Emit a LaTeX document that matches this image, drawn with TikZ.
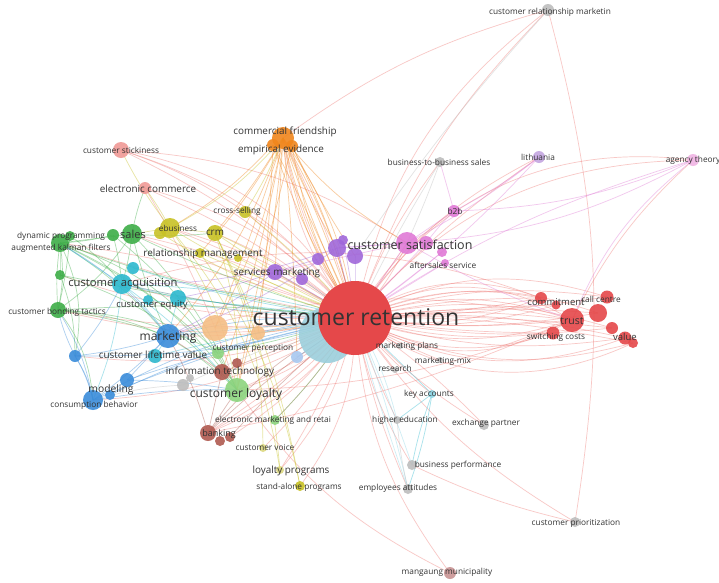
\documentclass[tikz,border=0pt]{standalone}
\usepackage{fontspec}
\setmainfont{Open Sans}
\usetikzlibrary{backgrounds}
\pgfdeclarelayer{bgfill}
\pgfsetlayers{bgfill,background,main}
\definecolor{cRed}{HTML}{E5484A}
\definecolor{eRed}{HTML}{F07C78}
\definecolor{cSalmon}{HTML}{F09A96}
\definecolor{cOrange}{HTML}{F0861C}
\definecolor{cOrangeL}{HTML}{F5BE85}
\definecolor{cYellow}{HTML}{C8C226}
\definecolor{cYellowL}{HTML}{DCD880}
\definecolor{cGreen}{HTML}{3EAE48}
\definecolor{cGreenL}{HTML}{8CD47E}
\definecolor{cCyan}{HTML}{2DB9CF}
\definecolor{cCyanL}{HTML}{8ED6E6}
\definecolor{cBlue}{HTML}{3A8CDA}
\definecolor{cBlueL}{HTML}{A8C8F0}
\definecolor{cBrown}{HTML}{B05A50}
\definecolor{cPurple}{HTML}{A068DA}
\definecolor{cPink}{HTML}{E07AD6}
\definecolor{cPinkL}{HTML}{F0B4E4}
\definecolor{cLav}{HTML}{C4A6E0}
\definecolor{cGray}{HTML}{BDBDBD}
\definecolor{cRose}{HTML}{C99494}
\definecolor{cPale}{HTML}{9CCFDC}
\definecolor{txt}{HTML}{333333}
\newcommand\fsz[1]{\fontsize{#1}{#1}\selectfont}
\begin{document}
\begin{tikzpicture}[x=1pt,y=1pt,
  bub/.style 2 args={circle,fill=#1,fill opacity=0.9,inner sep=0pt,minimum size=#2},
  lab/.style={text=txt,inner sep=0pt},
  lnk/.style={draw=#1,draw opacity=0.42,line width=0.7pt}]
\begin{pgfonlayer}{bgfill}
\fill[white] (0,0) rectangle (719,-582);
\end{pgfonlayer}
\useasboundingbox (0,0) rectangle (719,-582);
% ---------- bubbles ----------
\node[bub={cPale}{56}] (crb) at (327,-335) {};
\node[bub={cRed}{74},fill opacity=1] (cr) at (355,-318) {};
% red
\node[bub={cRed}{24}] (trust) at (572,-320) {};
\node[bub={cRed}{12}] (commit) at (541,-298) {};
\node[bub={cRed}{9}] (r2) at (556,-305) {};
\node[bub={cRed}{18}] (r3) at (598,-313) {};
\node[bub={cRed}{13}] (callc) at (607,-297) {};
\node[bub={cRed}{12}] (r5) at (612,-328) {};
\node[bub={cRed}{13}] (val) at (625,-338) {};
\node[bub={cRed}{10}] (r6) at (633,-343) {};
\node[bub={cRed}{13}] (swc) at (553,-333) {};
\node[bub={cSalmon}{16}] (cst) at (121,-150) {};
\node[bub={cSalmon}{12}] (ec) at (145,-188) {};
% orange
\node[bub={cOrange}{22}] (cf) at (283,-138) {};
\node[bub={cOrange}{12}] (cf2) at (273,-145) {};
\node[bub={cOrange}{12}] (cf3) at (292,-146) {};
\node[bub={cOrangeL}{26}] (ob) at (215,-328) {};
\node[bub={cOrangeL}{14}] (ob2) at (258,-333) {};
% yellow
\node[bub={cYellow}{20}] (ebus) at (170,-228) {};
\node[bub={cYellow}{12}] (eb2) at (160,-233) {};
\node[bub={cYellow}{16}] (crm) at (215,-233) {};
\node[bub={cYellow}{12}] (crsell) at (245,-212) {};
\node[bub={cYellow}{10}] (rm) at (200,-253) {};
\node[bub={cYellow}{8}] (y5) at (238,-258) {};
\node[bub={cYellowL}{8}] (cv) at (263,-448) {};
\node[bub={cYellowL}{8}] (lp) at (280,-470) {};
\node[bub={cYellow}{10}] (sap) at (300,-486) {};
% green
\node[bub={cGreen}{20}] (sales) at (132,-234) {};
\node[bub={cGreen}{12}] (g2) at (113,-235) {};
\node[bub={cGreen}{18}] (dyn) at (60,-243) {};
\node[bub={cGreen}{10}] (g3) at (70,-236) {};
\node[bub={cGreen}{10}] (g4) at (60,-275) {};
\node[bub={cGreen}{16}] (cbt) at (58,-310) {};
\node[bub={cGreenL}{24}] (cl) at (237,-390) {};
\node[bub={cGreenL}{12}] (g5) at (218,-353) {};
\node[bub={cGreenL}{10}] (emr) at (275,-420) {};
% cyan
\node[bub={cCyan}{20}] (ca) at (122,-284) {};
\node[bub={cCyan}{12}] (c2) at (133,-268) {};
\node[bub={cCyan}{16}] (ce) at (178,-298) {};
\node[bub={cCyan}{10}] (c3) at (148,-300) {};
\node[bub={cCyan}{14}] (clv) at (155,-356) {};
\node[bub={cCyanL}{8}] (ka) at (432,-394) {};
% blue
\node[bub={cBlue}{24}] (mk) at (168,-336) {};
\node[bub={cBlue}{12}] (b2) at (75,-356) {};
\node[bub={cBlue}{14}] (mod) at (127,-380) {};
\node[bub={cBlue}{20}] (cb) at (93,-400) {};
\node[bub={cBlue}{10}] (b3) at (110,-395) {};
\node[bub={cBlueL}{12}] (b4) at (297,-357) {};
% brown
\node[bub={cBrown}{16}] (it) at (222,-372) {};
\node[bub={cBrown}{10}] (br2) at (237,-363) {};
\node[bub={cBrown}{16}] (bank) at (208,-433) {};
\node[bub={cBrown}{10}] (br3) at (230,-437) {};
\node[bub={cBrown}{10}] (br4) at (220,-441) {};
% purple
\node[bub={cPurple}{18}] (p1) at (337,-248) {};
\node[bub={cPurple}{16}] (p2) at (355,-256) {};
\node[bub={cPurple}{12}] (p3) at (318,-259) {};
\node[bub={cPurple}{10}] (p4) at (343,-240) {};
\node[bub={cPurple}{16}] (sm) at (275,-272) {};
\node[bub={cPurple}{12}] (p5) at (302,-279) {};
% pink
\node[bub={cPink}{22}] (csat) at (407,-243) {};
\node[bub={cPink}{14}] (k2) at (426,-243) {};
\node[bub={cPink}{10}] (k3) at (442,-252) {};
\node[bub={cPink}{12}] (b2b) at (454,-211) {};
\node[bub={cPink}{8}] (af) at (445,-263) {};
\node[bub={cPinkL}{12}] (at) at (693,-160) {};
\node[bub={cLav}{12}] (lith) at (539,-157) {};
% gray
\node[bub={cGray}{10}] (bbs) at (440,-162) {};
\node[bub={cGray}{12}] (crmk) at (548,-10) {};
\node[bub={cGray}{8}] (hedu) at (397,-420) {};
\node[bub={cGray}{10}] (ep) at (484,-425) {};
\node[bub={cGray}{10}] (bp) at (412,-465) {};
\node[bub={cGray}{10}] (ea) at (408,-489) {};
\node[bub={cGray}{10}] (cp) at (575,-522) {};
\node[bub={cRose}{12}] (mm) at (450,-573) {};
\node[bub={cGray}{6}] (mp) at (400,-346) {};
\node[bub={cGray}{6}] (rs) at (395,-370) {};
\node[bub={cGray}{6}] (mmix) at (440,-360) {};
\node[bub={cGray}{12}] (gl1) at (183,-385) {};
\node[bub={cGray}{8}] (gl2) at (190,-378) {};
% ---------- links ----------
\begin{pgfonlayer}{background}
\foreach \t/\b in {crmk/20,crmk/12,lith/14,lith/6,at/32,at/24,b2b/12,bbs/8,csat/0,csat/-10,
  commit/26,commit/16,commit/6,commit/-4,commit/-14,trust/30,trust/18,trust/6,trust/-6,trust/-18,trust/-30,
  callc/22,callc/12,callc/-3,r3/-8,r3/5,r3/20,val/-12,val/-24,val/8,r6/-20,r6/6,r6/-30,
  swc/-10,swc/-22,swc/-4,r5/4,r5/-8,r5/14,r2/2,r2/-12,
  cst/-25,cst/-18,cst/-10,ec/-16,ec/-8,ebus/-10,ebus/-4,sales/-8,sales/0,crm/-8,dyn/-6,dyn/4,
  ca/4,ca/8,mk/6,cbt/8,cbt/12,g4/10,b2/14,cb/14,
  cl/8,cl/14,bank/10,bank/4,bank/16,lp/14,lp/6,cv/10,sap/18,emr/6,it/4,br3/10,
  mm/-16,bp/-10,ea/-6,hedu/-4,ep/-8,ep/6,cp/-12,
  ka/-6,mp/0,rs/0,mmix/-4,cf/10,cf/-5,cf/16,p1/0,sm/0,crsell/-4,crsell/-12}
  \draw[lnk=eRed] (cr.center) to[bend left=\b] (\t.center);
\foreach \t/\b in {ea/4,hedu/8,bp/2,ea/-2}
  \draw[lnk=cCyanL] (cr.center) to[bend left=\b] (\t.center);
\draw[lnk=eRed] (crmk.center) to[bend right=10] (cf.center);
\draw[lnk=eRed] (crmk.center) to[bend left=12] (cp.center);
\draw[lnk=eRed] (cst.center) to[bend left=8] (crsell.center);
\draw[lnk=eRed] (cst.center) to[bend left=14] (csat.center);
\draw[lnk=eRed] (ec.center) to[bend left=6] (cl.center);
\draw[lnk=eRed] (bp.center) to[bend right=6] (cp.center);
\draw[lnk=eRed] (bank.center) to[bend right=6] (trust.center);
\draw[lnk=eRed] (cl.center) to[bend right=10] (trust.center);
\draw[lnk=eRed] (mk.center) to[bend left=14] (trust.center);
\draw[lnk=eRed] (ca.center) to[bend left=18] (commit.center);
\draw[lnk=eRed] (cl.center) to[bend right=14] (mm.center);
\draw[lnk=eRed] (trust.center) to[bend left=10] (at.center);
\foreach \a/\t/\b in {cf/cr/-12,cf/cr/-8,cf/cr/-3,cf/cr/3,cf/cr/8,cf/cr/13,cf2/cr/-6,cf2/cr/2,cf3/cr/6,cf3/cr/-10,
  cf/cl/5,cf/rm/6,cf/ob/8,cf/ob/2,cf/mk/10,cf/csat/-10,cf/p1/-4,cf/sm/0,cf2/ob2/2,cf/it/4,cf/crm/4,
  cf3/p2/-3,cf2/ebus/8,ob/cr/-4,ob2/cr/-2,cf/b4/2,cf3/cl/-2}
  \draw[lnk=cOrange] (\a.center) to[bend left=\b] (\t.center);
\foreach \a/\t/\b in {sales/dyn/0,sales/ca/5,sales/cr/-5,sales/cl/10,dyn/cbt/10,dyn/cl/15,cbt/cl/20,
  g4/cl/15,cbt/mk/5,g2/dyn/5,sales/mk/-5,dyn/g4/0,sales/ec/5,dyn/cr/-5,g4/cr/-3,cbt/cr/5,
  sales/crm/-5,g3/ca/8,dyn/b2/18,cbt/cb/16,g2/cl/12,g5/cr/-3,emr/cr/-6,g5/dyn/-8,
  dyn/cbt/-6,g3/cbt/4,dyn/cl/22,sales/cbt/10,cbt/g5/12,g4/b2/10,dyn/mk/8,g2/ca/4}
  \draw[lnk=cGreen] (\a.center) to[bend left=\b] (\t.center);
\foreach \a/\t/\b in {ebus/crm/0,ebus/cr/-5,crm/cr/-3,crsell/cr/5,rm/cr/0,ebus/cst/5,crm/cl/10,
  ebus/lp/15,crm/lp/10,ebus/sales/0,crm/cv/12,rm/sap/12,ebus/cf/-10,crsell/cf/-5,eb2/cr/-8,y5/cr/-2,
  ebus/cl/12,crm/sap/8,crm/cr/6,ebus/ec/-4}
  \draw[lnk=cYellow] (\a.center) to[bend left=\b] (\t.center);
\foreach \a/\t/\b in {ca/cr/-4,ca/ce/0,ca/mk/5,ce/cr/0,clv/cr/3,ca/cb/8,c2/cr/-5,clv/mk/0,ca/dyn/0,
  ka/cr/0,ka/ea/5,ka/hedu/0,ca/cl/6,c3/cr/-2,ce/mk/0,ka/bp/-4,ca/cr/6}
  \draw[lnk=cCyan] (\a.center) to[bend left=\b] (\t.center);
\foreach \a/\t/\b in {mk/cr/0,mk/cb/5,cb/cr/5,mod/cr/3,b2/mk/-5,cb/cbt/-10,b2/cb/10,mod/mk/0,cb/cl/5,
  b4/cr/0,b2/cr/-8,mk/dyn/-10,cb/cr/12,b3/cr/8,mod/cl/4,b2/ca/-6,cb/b2/-8,b2/cbt/6,mk/cr/8}
  \draw[lnk=cBlue] (\a.center) to[bend left=\b] (\t.center);
\foreach \a/\t/\b in {bank/cr/5,it/cr/0,bank/it/0,bank/cl/0,it/mk/0,br3/cr/4,bank/mk/-6,bank/cr/12}
  \draw[lnk=cBrown] (\a.center) to[bend left=\b] (\t.center);
\foreach \a/\t/\b in {p1/cr/0,p2/cr/0,sm/cr/0,p3/sm/0,p1/csat/0,sm/mk/5,p1/ca/10,p4/cr/3,p5/cr/0,sm/ce/4,p1/mk/8}
  \draw[lnk=cPurple] (\a.center) to[bend left=\b] (\t.center);
\foreach \a/\t/\b in {csat/b2b/0,csat/at/-12,csat/lith/-5,csat/cr/0,k2/cr/0,b2b/bbs/0,at/b2b/10,
  lith/b2b/5,csat/trust/-5,af/cr/0,csat/sm/0,k3/cr/3,lith/cr/6,at/cr/-8,csat/p1/0,at/trust/-14,k2/b2b/4}
  \draw[lnk=cPink] (\a.center) to[bend left=\b] (\t.center);
\draw[lnk=cGray] (bbs.center) to[bend left=-3] (cr.center);
\draw[lnk=cGray] (bbs.center) to[bend left=2] (csat.center);
\draw[lnk=cGray] (crmk.center) to[bend right=4] (p2.center);
\draw[lnk=cGray] (gl1.center) to[bend left=4] (cr.center);
\draw[lnk=cGray] (gl1.center) to[bend right=6] (cb.center);
\draw[lnk=cGray] (ea.center) to[bend left=4] (hedu.center);
\end{pgfonlayer}
% ---------- labels ----------
\node[lab,font=\fsz{23}] (l-cr) at (356,-317) {customer retention};
\node[lab,font=\fsz{12.5}] (l-csat) at (410,-245) {customer satisfaction};
\node[lab,font=\fsz{12}] (l-cl) at (236,-394) {customer loyalty};
\node[lab,font=\fsz{11.2}] (l-ca) at (123,-284) {customer acquisition};
\node[lab,font=\fsz{12}] (l-mk) at (168,-337) {marketing};
\node[lab,font=\fsz{11}] (l-sales) at (133,-234) {sales};
\node[lab,font=\fsz{9.9}] (l-cf) at (285,-132) {commercial friendship};
\node[lab,font=\fsz{9.9}] (l-ee) at (281,-150) {empirical evidence};
\node[lab,font=\fsz{9.9}] (l-ec) at (148,-189) {electronic commerce};
\node[lab,font=\fsz{9.9}] (l-rm) at (203,-254) {relationship management};
\node[lab,font=\fsz{9.9}] (l-sm) at (277,-273) {services marketing};
\node[lab,font=\fsz{9.4}] (l-ce) at (152,-305) {customer equity};
\node[lab,font=\fsz{9.9}] (l-clv) at (153,-355) {customer lifetime value};
\node[lab,font=\fsz{9.9}] (l-it) at (220,-372) {information technology};
\node[lab,font=\fsz{10.3}] (l-mod) at (111,-390) {modeling};
\node[lab,font=\fsz{9}] (l-bank) at (219,-434) {banking};
\node[lab,font=\fsz{9.9}] (l-lp) at (291,-471) {loyalty programs};
\node[lab,font=\fsz{9.9}] (l-crm) at (215,-233) {crm};
\node[lab,font=\fsz{8.2}] (l-ebus) at (178,-228) {ebusiness};
\node[lab,font=\fsz{8.3}] (l-crsell) at (237,-211) {cross-selling};
\node[lab,font=\fsz{9.5}] (l-commit) at (556,-302) {commitment};
\node[lab,font=\fsz{10.5}] (l-trust) at (572,-321) {trust};
\node[lab,font=\fsz{8.3}] (l-callc) at (601,-299) {call centre};
\node[lab,font=\fsz{8.3}] (l-swc) at (556,-337) {switching costs};
\node[lab,font=\fsz{9.5}] (l-val) at (625,-337) {value};
\node[lab,font=\fsz{8.3}] (l-crmk) at (550,-12) {customer relationship marketin};
\node[lab,font=\fsz{8.3}] (l-at) at (693,-160) {agency theory};
\node[lab,font=\fsz{8.3}] (l-lith) at (538,-157) {lithuania};
\node[lab,font=\fsz{8.3}] (l-bbs) at (439,-162) {business-to-business sales};
\node[lab,font=\fsz{8.3}] (l-b2b) at (455,-211) {b2b};
\node[lab,font=\fsz{8.3}] (l-af) at (443,-265) {aftersales service};
\node[lab,font=\fsz{8.3}] (l-cst) at (121,-150) {customer stickiness};
\node[lab,font=\fsz{8.3}] (l-dyn) at (61,-236) {dynamic programming};
\node[lab,font=\fsz{8.3}] (l-akf) at (61,-248) {augmented kalman filters};
\node[lab,font=\fsz{8.3}] (l-cbt) at (57,-312) {customer bonding tactics};
\node[lab,font=\fsz{8.3}] (l-cper) at (253,-348) {customer perception};
\node[lab,font=\fsz{8.3}] (l-cb) at (94,-405) {consumption behavior};
\node[lab,font=\fsz{8.3}] (l-emr) at (273,-420) {electronic marketing and retai};
\node[lab,font=\fsz{8.3}] (l-cv) at (265,-447) {customer voice};
\node[lab,font=\fsz{8.3}] (l-sap) at (299,-487) {stand-alone programs};
\node[lab,font=\fsz{8.3}] (l-mp) at (407,-346) {marketing plans};
\node[lab,font=\fsz{8.3}] (l-mmix) at (443,-361) {marketing-mix};
\node[lab,font=\fsz{8.3}] (l-rs) at (395,-368) {research};
\node[lab,font=\fsz{8.3}] (l-ka) at (429,-394) {key accounts};
\node[lab,font=\fsz{8.3}] (l-hedu) at (405,-420) {higher education};
\node[lab,font=\fsz{8.3}] (l-ep) at (486,-423) {exchange partner};
\node[lab,font=\fsz{8.3}] (l-bp) at (458,-465) {business performance};
\node[lab,font=\fsz{8.3}] (l-ea) at (398,-488) {employees attitudes};
\node[lab,font=\fsz{8.3}] (l-cp) at (576,-523) {customer prioritization};
\node[lab,font=\fsz{8.3}] (l-mm) at (447,-572) {mangaung municipality};
\end{tikzpicture}
\end{document}
